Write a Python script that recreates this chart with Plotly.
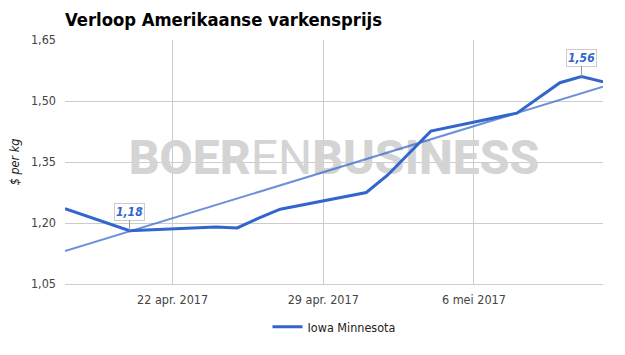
import plotly.graph_objects as go
import pandas as pd

# ---- data ----
dates = ["2017-04-17", "2017-04-20", "2017-04-24", "2017-04-25", "2017-04-26",
         "2017-04-27", "2017-05-01", "2017-05-02", "2017-05-03", "2017-05-04",
         "2017-05-08", "2017-05-09", "2017-05-10", "2017-05-11", "2017-05-12"]
prices = [1.235, 1.181, 1.190, 1.188, 1.212,
          1.234, 1.275, 1.318, 1.372, 1.426,
          1.470, 1.507, 1.545, 1.560, 1.547]
series_name = "Iowa Minnesota"

trend_dates = ["2017-04-17", "2017-05-12"]
trend_values = [1.131, 1.535]

x_ticks = ["2017-04-22", "2017-04-29", "2017-05-06"]
x_tick_labels = ["22 apr. 2017", "29 apr. 2017", "6 mei 2017"]
y_ticks = [1.05, 1.20, 1.35, 1.50, 1.65]
y_tick_labels = ["1,05", "1,20", "1,35", "1,50", "1,65"]

x_range = ["2017-04-17", "2017-05-12"]
y_range = [1.05, 1.65]

title = "Verloop Amerikaanse varkensprijs"
y_title = "$ per kg"

BLUE = "#3366cc"
FONT = "DejaVu Sans Condensed, DejaVu Sans, sans-serif"

fig = go.Figure()

# watermark (behind data lines)
xr = pd.to_datetime(x_range)
x_mid = xr[0] + (xr[1] - xr[0]) / 2
y_mid = (y_range[0] + y_range[1]) / 2
fig.add_trace(go.Scatter(
    x=[x_mid], y=[y_mid], mode="text",
    text=['BOER<span style="font-weight:400">EN</span>BUSINESS'],
    textposition="middle center",
    textfont=dict(family="Roboto", size=48, color="#d4d4d4", weight=800),
    hoverinfo="skip", showlegend=False,
))

# trend line
fig.add_trace(go.Scatter(
    x=trend_dates, y=trend_values, mode="lines",
    line=dict(color="rgba(51,102,204,0.72)", width=2),
    hoverinfo="skip", showlegend=False,
))

# main series
fig.add_trace(go.Scatter(
    x=dates, y=prices, mode="lines", name=series_name,
    line=dict(color=BLUE, width=3),
))

# min / max annotations
def fmt(v):
    return f"{v:.2f}".replace(".", ",")

i_min = prices.index(min(prices))
i_max = prices.index(max(prices))
for i in (i_min, i_max):
    fig.add_annotation(
        x=dates[i], y=prices[i], text=f"<b><i>{fmt(prices[i])}</i></b>",
        showarrow=True, arrowhead=0, arrowwidth=1, arrowcolor="#999999",
        ax=0, ay=-19,
        font=dict(family=FONT, size=12, color=BLUE),
        bgcolor="white", bordercolor="#cccccc", borderwidth=1, borderpad=1,
    )

fig.update_layout(
    width=625, height=355,
    margin=dict(l=65, r=22, t=40, b=71, autoexpand=False),
    paper_bgcolor="white", plot_bgcolor="white",
    font=dict(family=FONT, size=12.5, color="#444444"),
    title=dict(text=f"<b>{title}</b>", x=65/625, xanchor="left", xref="container",
               y=1 - 20/355, yanchor="middle", yref="container",
               font=dict(family=FONT, size=18.3, color="#000000")),
    showlegend=True,
    legend=dict(orientation="h", x=0.5, xanchor="center", y=1 - 327/355, yanchor="middle",
                yref="container", font=dict(family=FONT, size=12.5, color="#222222")),
    xaxis=dict(type="date", range=x_range, tickvals=x_ticks, ticktext=x_tick_labels,
               showgrid=True, gridcolor="#cccccc", gridwidth=1, zeroline=False,
               showline=True, linecolor="#cccccc", linewidth=1, ticks="",
               ticklabelstandoff=4, automargin=False, fixedrange=True),
    yaxis=dict(range=y_range, tickvals=y_ticks, ticktext=y_tick_labels,
               showgrid=True, gridcolor="#cccccc", gridwidth=1, zeroline=False,
               showline=False, ticks="", ticklabelstandoff=8,
               title=dict(text=f"<i>{y_title}</i>", standoff=8,
                          font=dict(family=FONT, size=12.5, color="#222222")),
               automargin=False, fixedrange=True),
)

fig.write_html("out.html")
